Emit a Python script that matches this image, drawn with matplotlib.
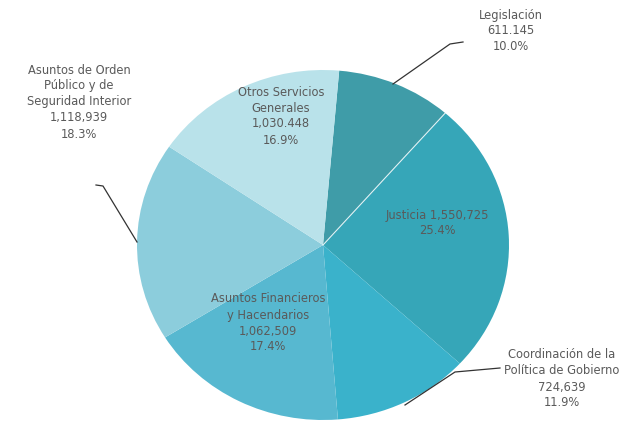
import matplotlib
matplotlib.use("Agg")
import matplotlib.pyplot as plt
from matplotlib.lines import Line2D
import numpy as np

categories = ["Legislación", "Justicia", "Coordinación de la\nPolítica de Gobierno",
              "Asuntos Financieros\ny Hacendarios", "Asuntos de Orden\nPúblico y de\nSeguridad Interior",
              "Otros Servicios\nGenerales"]
values = [611.145, 1550.725, 724.639, 1062.509, 1118.939, 1030.448]
value_labels = ["611.145", "1,550,725", "724,639", "1,062,509", "1,118,939", "1,030.448"]
pct_labels = ["10.0%", "25.4%", "11.9%", "17.4%", "18.3%", "16.9%"]
colors = ["#3f9ca8", "#36a6b8", "#3ab2cb", "#57b8d0", "#8ccddc", "#b9e2ea"]

W, H = 620, 424
fig = plt.figure(figsize=(W / 100, H / 100), dpi=100)
fig.patch.set_facecolor("white")
ax = fig.add_axes([0, 0, 1, 1])
ax.set_axis_off()

cx, cy = 323, 245  # pixel centre (from top)
rx, ry = 186, 175
ax.pie(values, colors=colors, startangle=85, counterclock=False,
       wedgeprops=dict(linewidth=0))
ax.set_aspect("auto")
ax.set_xlim(-cx / rx, (W - cx) / rx)
ax.set_ylim(-(H - cy) / ry, cy / ry)

# thin white separator between first two wedges
ang = np.deg2rad(85 - 360 * values[0] / sum(values))
ax.plot([0, np.cos(ang)], [0, np.sin(ang)], color="white", lw=0.8, alpha=0.8)

font = ["DejaVu Sans"]
tc = "#5a5a5a"

def ftxt(x, y, s, fs=8.3):
    fig.text(x / W, 1 - y / H, s, ha="center", va="center", fontsize=fs,
             color=tc, family=font, linespacing=1.3)

def fline(xs, ys):
    fig.add_artist(Line2D([x / W for x in xs], [1 - y / H for y in ys],
                          color="#333333", lw=0.9))

# Legislación
ftxt(511, 31, f"{categories[0]}\n{value_labels[0]}\n{pct_labels[0]}")
fline([393, 450, 463], [84, 44, 42])
# Justicia
ftxt(437, 223, f"{categories[1]} {value_labels[1]}\n{pct_labels[1]}")
# Coordinación
ftxt(562, 379, f"{categories[2]}\n{value_labels[2]}\n{pct_labels[2]}")
fline([405, 455, 500], [405, 372, 368])
# Financieros
ftxt(268, 323, f"{categories[3]}\n{value_labels[3]}\n{pct_labels[3]}")
# Orden público
ftxt(79, 102, f"{categories[4]}\n{value_labels[4]}\n{pct_labels[4]}")
fline([137, 103, 96], [242, 186, 185])
# Otros
ftxt(281, 116, f"{categories[5]}\n{value_labels[5]}\n{pct_labels[5]}")

fig.savefig("out.png", dpi=100, facecolor="white")
